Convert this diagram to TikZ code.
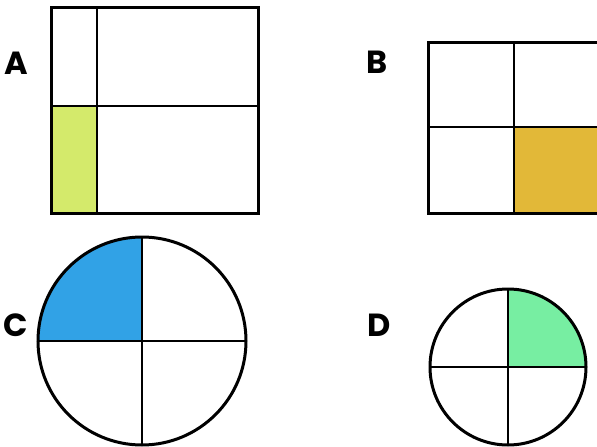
\documentclass[tikz,border=0pt]{standalone}
\usepackage{fontspec}
\newfontfamily\lblfont{Poppins}
\usetikzlibrary{positioning}
\definecolor{limefill}{HTML}{D4EA6B}
\definecolor{goldfill}{HTML}{E2B838}
\definecolor{skyfill}{HTML}{31A2E6}
\definecolor{mintfill}{HTML}{77EEA2}
\tikzset{
  outline/.style={draw=black, line width=3pt},
  divider/.style={draw=black, line width=2pt},
  partlbl/.style={font=\lblfont\bfseries\fontsize{32}{32}\selectfont, inner sep=0pt},
}

\begin{document}
\begin{tikzpicture}[x=1pt, y=-1pt]
      \useasboundingbox (0,0) rectangle (597,447);
      \clip (0,0) rectangle (597,447);

      % === A: rectangle, one eighth shaded ===
      \node[partlbl] (lblA) at (16,63) {A};
      \fill[limefill] (51,106) rectangle (97,213);
      \draw[divider] (97,7) -- (97,213);
      \draw[divider] (51,106) -- (258,106);
      \draw[outline] (51,7) rectangle (258,213);

      % === B: square, one quarter shaded ===
      \node[partlbl] (lblB) at (377,62) {B};
      \fill[goldfill] (514,127) rectangle (599,213);
      \draw[divider] (514,42) -- (514,213);
      \draw[divider] (428,127) -- (599,127);
      \draw[outline] (428,42) rectangle (599,213);

      % === C: big circle, one quarter shaded ===
      \node[partlbl] (lblC) at (16,325) {C};
      \fill[skyfill] (142,341) -- (38,341) arc[start angle=180, end angle=270, radius=104] -- cycle;
      \draw[divider] (142,237) -- (142,445);
      \draw[divider] (38,341) -- (246,341);
      \draw[outline] (142,341) circle[radius=104];

      % === D: small circle, one quarter shaded ===
      \node[partlbl] (lblD) at (379,325) {D};
      \fill[mintfill] (508,367) -- (586,367) arc[start angle=0, end angle=-90, radius=78] -- cycle;
      \draw[divider] (508,289) -- (508,445);
      \draw[divider] (430,367) -- (586,367);
      \draw[outline] (508,367) circle[radius=78];
    \end{tikzpicture}
\end{document}
